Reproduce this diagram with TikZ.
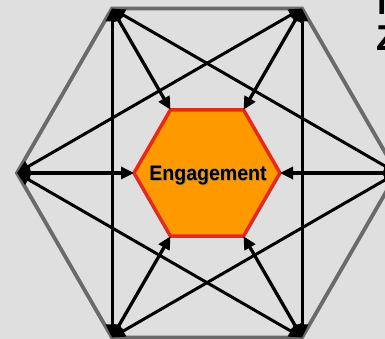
\documentclass[tikz,border=0pt]{standalone}
\usepackage{fontspec}
\setmainfont{Liberation Sans}
\usetikzlibrary{arrows.meta}
\definecolor{bg}{HTML}{DFDFDF}
\definecolor{outergray}{HTML}{6A6A6A}
\definecolor{hexorange}{HTML}{FF9900}
\definecolor{hexred}{HTML}{E52A1D}
\definecolor{shadowgray}{HTML}{8A8A8A}
\tikzset{
  link/.style={line width=3pt, black, {Triangle[length=13pt,width=12pt]}-{Triangle[length=13pt,width=12pt]}},
  spoke/.style={line width=3.3pt, black, {Triangle[length=13pt,width=12pt]}-{Triangle[length=13pt,width=12pt]}},
  outerhex/.style={line width=3.8pt, outergray, line join=miter},
  innerhex/.style={line width=3.5pt, hexred, fill=hexorange, line join=miter},
  lbl/.style={font=\bfseries\fontsize{21}{21}\selectfont, inner sep=0pt},
  edgetxt/.style={font=\bfseries\fontsize{36}{36}\selectfont, anchor=base west, inner sep=0pt}
}
\begin{document}
\begin{tikzpicture}[x=1pt,y=1pt]
\fill[bg] (0,0) rectangle (385,339);
\useasboundingbox (0,0) rectangle (385,339);
% outer vertices
\coordinate (oL) at (17,166);
\coordinate (oTL) at (112,330.5);
\coordinate (oTR) at (302,330.5);
\coordinate (oR) at (397,166);
\coordinate (oBR) at (302,1.5);
\coordinate (oBL) at (112,1.5);
% inner vertices
\coordinate (iL) at (134,166);
\coordinate (iTL) at (170.5,229.2);
\coordinate (iTR) at (243.5,229.2);
\coordinate (iR) at (280,166);
\coordinate (iBR) at (243.5,102.8);
\coordinate (iBL) at (170.5,102.8);
\draw[outerhex] (oL) -- (oTL) -- (oTR) -- (oR) -- (oBR) -- (oBL) -- cycle;
\draw[innerhex] (iL) -- (iTL) -- (iTR) -- (iR) -- (iBR) -- (iBL) -- cycle;
% links between outer vertices
\draw[link] (oTL) -- (oBL);
\draw[link] (oTR) -- (oBR);
\draw[link] (oTL) -- (oR);
\draw[link] (oTR) -- (oL);
\draw[link] (oBL) -- (oR);
\draw[link] (oBR) -- (oL);
% spokes
\draw[spoke] (oL) -- (iL);
\draw[spoke] (oTL) -- (iTL);
\draw[spoke] (oTR) -- (iTR);
\draw[spoke] (oR) -- (iR);
\draw[spoke] (oBR) -- (iBR);
\draw[spoke] (oBL) -- (iBL);
% label
\node[lbl, text=shadowgray, xscale=0.93] at (208.8,162.9) {Engagement};
\node[lbl, xscale=0.93] (eng) at (208,163.7) {Engagement};
% clipped text at the right edge (cut off in the reference too)
\node[edgetxt] (side1) at (377,324) {N};
\node[edgetxt] (side2) at (376,288) {Z};
\end{tikzpicture}
\end{document}
